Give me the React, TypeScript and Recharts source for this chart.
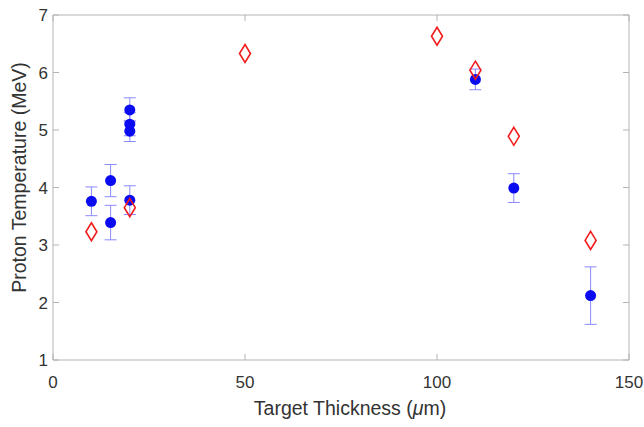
import { ScatterChart, Scatter, XAxis, YAxis, ErrorBar } from "recharts";

const xTicks = [0, 50, 100, 150];
const yTicks = [1, 2, 3, 4, 5, 6, 7];

// measured proton temperatures (blue dots, with error)
const measuredX = [10, 15, 15, 20, 20, 20, 20, 110, 120, 140];
const measuredY = [3.76, 4.12, 3.39, 5.35, 5.1, 4.98, 3.78, 5.88, 3.99, 2.12];
const measuredErr = [0.25, 0.28, 0.3, 0.21, 0.2, 0.18, 0.25, 0.18, 0.25, 0.5];

// red diamonds
const modelX = [10, 20, 50, 100, 110, 120, 140];
const modelY = [3.23, 3.65, 6.33, 6.63, 6.04, 4.89, 3.08];

const measured = measuredX.map((x, i) => ({ x, y: measuredY[i], err: measuredErr[i] }));
const model = modelX.map((x, i) => ({ x, y: modelY[i] }));

const AXIS = "#b4b4b4";
const TEXT = "#333333";
const FONT = "'Liberation Sans', Arial, sans-serif";

const BlueDot = (props: any) => <circle cx={props.cx} cy={props.cy} r={5.5} fill="#0b0bf2" />;

const Diamond = (props: any) => {
  const { cx, cy } = props;
  return (
    <path
      d={`M${cx},${cy - 9} L${cx + 5.5},${cy} L${cx},${cy + 9} L${cx - 5.5},${cy} Z`}
      fill="none"
      stroke="#f21c1c"
      strokeWidth={1.6}
    />
  );
};

const Nothing = () => <g />;

const YTitle = ({ viewBox }: any) => {
  const { x, y, height } = viewBox;
  return (
    <text
      transform={`translate(${x + 19}, ${y + height / 2 - 10}) rotate(-90)`}
      textAnchor="middle"
      dominantBaseline="central"
      fill={TEXT}
      fontSize={19.5}
      fontFamily={FONT}
    >
      Proton Temperature (MeV)
    </text>
  );
};

const XTitle = ({ viewBox }: any) => {
  const { x, y, width } = viewBox;
  return (
    <text
      x={x + width / 2 + 9}
      y={y + 48}
      textAnchor="middle"
      dominantBaseline="central"
      fill={TEXT}
      fontSize={19.5}
      fontFamily={FONT}
    >
      Target Thickness (<tspan fontStyle="italic">μ</tspan>m)
    </text>
  );
};

export default function App() {
  const tickStyle = { fill: TEXT, fontSize: 17, fontFamily: FONT };
  return (
    <div style={{ position: "absolute", left: 0, top: 0, width: 644, height: 427, background: "#fff" }}>
      <ScatterChart width={644} height={427} margin={{ top: 14, right: 14, bottom: 0, left: 0 }}>
        <XAxis
          xAxisId="b"
          type="number"
          dataKey="x"
          domain={[0, 150]}
          ticks={xTicks}
          height={67}
          stroke={AXIS}
          tickSize={-6}
          tickMargin={22}
          tick={tickStyle}
          label={<XTitle />}
        />
        <XAxis
          xAxisId="t"
          orientation="top"
          type="number"
          dataKey="x"
          domain={[0, 150]}
          ticks={xTicks}
          height={1}
          stroke={AXIS}
          tickSize={-6}
          tick={Nothing}
        />
        <YAxis
          yAxisId="l"
          type="number"
          dataKey="y"
          domain={[1, 7]}
          ticks={yTicks}
          width={53}
          stroke={AXIS}
          tickSize={-6}
          tickMargin={11}
          tick={tickStyle}
          label={<YTitle />}
        />
        <YAxis
          yAxisId="r"
          orientation="right"
          type="number"
          dataKey="y"
          domain={[1, 7]}
          ticks={yTicks}
          width={1}
          stroke={AXIS}
          tickSize={-6}
          tick={Nothing}
        />
        {/* invisible series so the top/right box axes get drawn */}
        <Scatter data={model} xAxisId="t" yAxisId="r" shape={Nothing} isAnimationActive={false} />
        <Scatter data={measured} xAxisId="b" yAxisId="l" shape={BlueDot} isAnimationActive={false}>
          <ErrorBar dataKey="err" direction="y" width={6} stroke="#8a8aff" strokeWidth={1} />
        </Scatter>
        <Scatter data={model} xAxisId="b" yAxisId="l" shape={Diamond} isAnimationActive={false} />
      </ScatterChart>
    </div>
  );
}
